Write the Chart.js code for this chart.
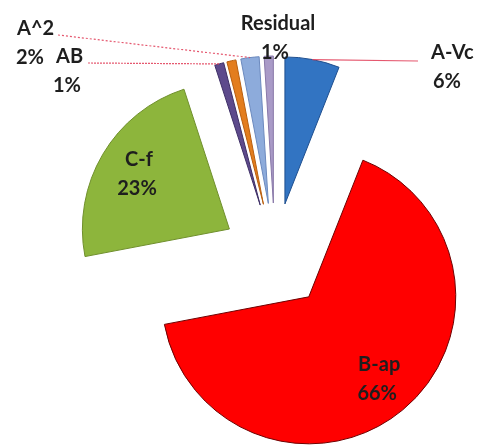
<!DOCTYPE html>
<html><head><meta charset="utf-8">
<script src="https://cdn.jsdelivr.net/npm/chart.js@4.4.0/dist/chart.umd.min.js"></script>
<style>html,body{margin:0;padding:0;background:#fff;overflow:hidden}</style>
</head><body>
<canvas id="c" width="481" height="448"></canvas>
<script>
// ---- data ----
const categories = ['A-Vc', 'B-ap', 'C-f', 'AB', 'B^2', 'A^2', 'Residual'];
const percentages = [6, 66, 23, 1, 1, 2, 1];
const showLabel = [true, true, true, true, false, true, true];

// ---- styles ----
const sliceColors = ['#3274C2', '#FF0000', '#8DB53C', '#5D4A8C', '#E37D1E', '#8DABDB', '#A99AC7'];
const sliceBorders = ['#1F4F8F', '#6E0000', '#6F8F2C', '#3E2F66', '#B85E0E', '#6B89BE', '#8878A8'];
const EXPLODE = 53;
const LINE_H = 29;
const outsideLabels = {
  'A^2':      { x: 17,  y: 29, x2: 16,  align: 'left',   leader: [58, 35],  dash: [2, 2] },
  'AB':       { x: 56,  y: 57, x2: 53,  align: 'left',   leader: [88, 63],  dash: [2, 1] },
  'Residual': { x: 278, y: 24, x2: 275, align: 'center' },
  'A-Vc':     { x: 431, y: 53, x2: 433, align: 'left',   leader: [418, 61], dash: [] }
};

const explodePlugin = {
  id: 'explode',
  afterDatasetsUpdate(chart) {
    chart.getDatasetMeta(0).data.forEach(arc => {
      const mid = (arc.startAngle + arc.endAngle) / 2;
      arc.x += Math.cos(mid) * EXPLODE;
      arc.y += Math.sin(mid) * EXPLODE;
    });
  }
};

const labelPlugin = {
  id: 'sliceLabels',
  afterDatasetsDraw(chart) {
    const ctx = chart.ctx;
    const arcs = chart.getDatasetMeta(0).data;
    ctx.save();
    ctx.font = 'bold 20px Lato';
    ctx.textBaseline = 'middle';
    arcs.forEach((arc, i) => {
      if (!showLabel[i]) return;
      const mid = (arc.startAngle + arc.endAngle) / 2;
      const l1 = categories[i], l2 = percentages[i] + '%';
      const place = outsideLabels[l1];
      if (place) {
        if (place.leader) {
          const ex = arc.x + Math.cos(mid) * arc.outerRadius;
          const ey = arc.y + Math.sin(mid) * arc.outerRadius;
          ctx.beginPath();
          ctx.setLineDash(place.dash);
          ctx.strokeStyle = 'rgba(226,70,95,0.9)';
          ctx.lineWidth = 1.2;
          ctx.moveTo(place.leader[0], place.leader[1]);
          ctx.lineTo(ex, ey);
          ctx.stroke();
          ctx.setLineDash([]);
        }
        ctx.fillStyle = '#1e1e1e';
        ctx.textAlign = place.align;
        ctx.fillText(l1, place.x, place.y);
        ctx.fillText(l2, place.x2, place.y + LINE_H);
      } else {
        const r = arc.outerRadius * 0.73;
        const cx = arc.x + Math.cos(mid) * r, cy = arc.y + Math.sin(mid) * r;
        ctx.fillStyle = '#1e1e1e';
        ctx.textAlign = 'center';
        ctx.fillText(l1, cx + 2, cy - LINE_H / 2);
        ctx.fillText(l2, cx, cy + LINE_H / 2);
      }
    });
    ctx.restore();
  }
};

new Chart(document.getElementById('c'), {
  type: 'pie',
  data: {
    labels: categories,
    datasets: [{
      data: percentages,
      backgroundColor: sliceColors,
      borderColor: sliceBorders,
      borderWidth: 1,
      clip: false
    }]
  },
  options: {
    responsive: false,
    animation: false,
    events: [],
    radius: 147,
    layout: { padding: { left: 69, top: 64, right: 0, bottom: 0 } },
    plugins: { legend: { display: false }, tooltip: { enabled: false } }
  },
  plugins: [explodePlugin, labelPlugin]
});
</script>
</body></html>
